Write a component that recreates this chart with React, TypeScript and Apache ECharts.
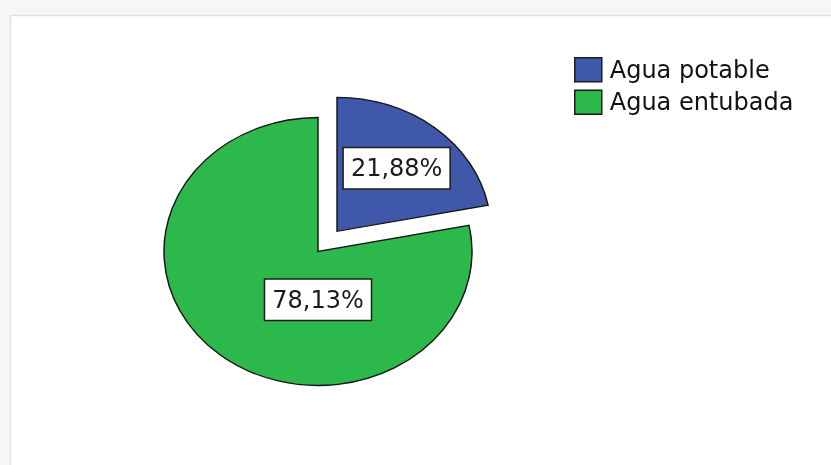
import React, { useEffect, useRef } from "react";
import * as echarts from "echarts";

const categories = ["Agua potable", "Agua entubada"];
const values = [21.88, 78.13];
const colors = ["#3f58a9", "#2db84b"];

// geometry / style constants (not data)
const CX = 318;
const CY = 251.5;
const R = 154;
const SY = 134 / 154;
const EXPLODE = [30, 0];
const LABEL_PLACE = [
  { angle: null as number | null, dist: 0.61 },
  { angle: Math.PI / 2, dist: 0.36 },
];

const fmt = (v: number) => v.toFixed(2).replace(".", ",") + "%";

export default function App() {
  const ref = useRef<HTMLDivElement>(null);
  useEffect(() => {
    if (!ref.current) return;
    const chart = echarts.init(ref.current, undefined, { renderer: "svg" });
    const total = values.reduce((a, b) => a + b, 0);

    const series = categories.map((name, i) => ({
      type: "custom",
      name,
      coordinateSystem: "none",
      data: [values[i]],
      itemStyle: { color: colors[i] },
      z: 2 + (categories.length - i),
      renderItem: (params: any, api: any) => {
        const v = api.value(0);
        const before = values.slice(0, i).reduce((a, b) => a + b, 0);
        const start = -Math.PI / 2 + (before / total) * Math.PI * 2;
        const end = start + (v / total) * Math.PI * 2;
        const mid = (start + end) / 2;
        const ox = Math.cos(mid) * EXPLODE[i];
        const oy = Math.sin(mid) * EXPLODE[i];
        const lp = LABEL_PLACE[i];
        const la = lp.angle == null ? mid : lp.angle;
        const lx = CX + ox + Math.cos(la) * lp.dist * R;
        const ly = CY + (oy + Math.sin(la) * lp.dist * R) * SY;
        return {
          type: "group",
          children: [
            {
              type: "sector",
              x: CX,
              y: CY,
              scaleY: SY,
              shape: {
                cx: ox,
                cy: oy,
                r: R,
                r0: 0,
                startAngle: start,
                endAngle: end,
                clockwise: true,
              },
              style: { fill: colors[i], stroke: "#161616", lineWidth: 1.5 },
            },
            {
              type: "text",
              x: lx,
              y: ly,
              z2: 10,
              style: {
                text: fmt(v),
                fill: "#1a1a1a",
                fontSize: 24,
                fontFamily: "DejaVu Sans",
                lineHeight: 24,
                align: "center",
                verticalAlign: "middle",
                backgroundColor: "#ffffff",
                borderColor: "#1c1c1c",
                borderWidth: 1.5,
                padding: [8, 7, 8, 7],
              },
            },
          ],
        };
      },
    }));

    chart.setOption({
      animation: false,
      graphic: [
        {
          type: "rect",
          z: -10,
          shape: { x: 0, y: 0, width: 831, height: 465 },
          style: { fill: "#f6f6f6" },
        },
        {
          type: "rect",
          z: -9,
          shape: { x: 10.5, y: 15.5, width: 830, height: 460 },
          style: { fill: "#ffffff", stroke: "#e2e2e2", lineWidth: 1.5 },
        },
      ],
      legend: {
        orient: "vertical",
        left: 574,
        top: 57,
        padding: 0,
        itemWidth: 27,
        itemHeight: 24,
        itemGap: 7,
        icon: "rect",
        data: categories,
        itemStyle: { borderColor: "#1c1c1c", borderWidth: 1.5 },
        textStyle: {
          fontSize: 24,
          fontFamily: "DejaVu Sans",
          color: "#111111",
          padding: [0, 0, 0, 3],
        },
      },
      series,
    });
    return () => chart.dispose();
  }, []);
  return (
    <div
      ref={ref}
      style={{ position: "fixed", left: 0, top: 0, width: 831, height: 465 }}
    />
  );
}
